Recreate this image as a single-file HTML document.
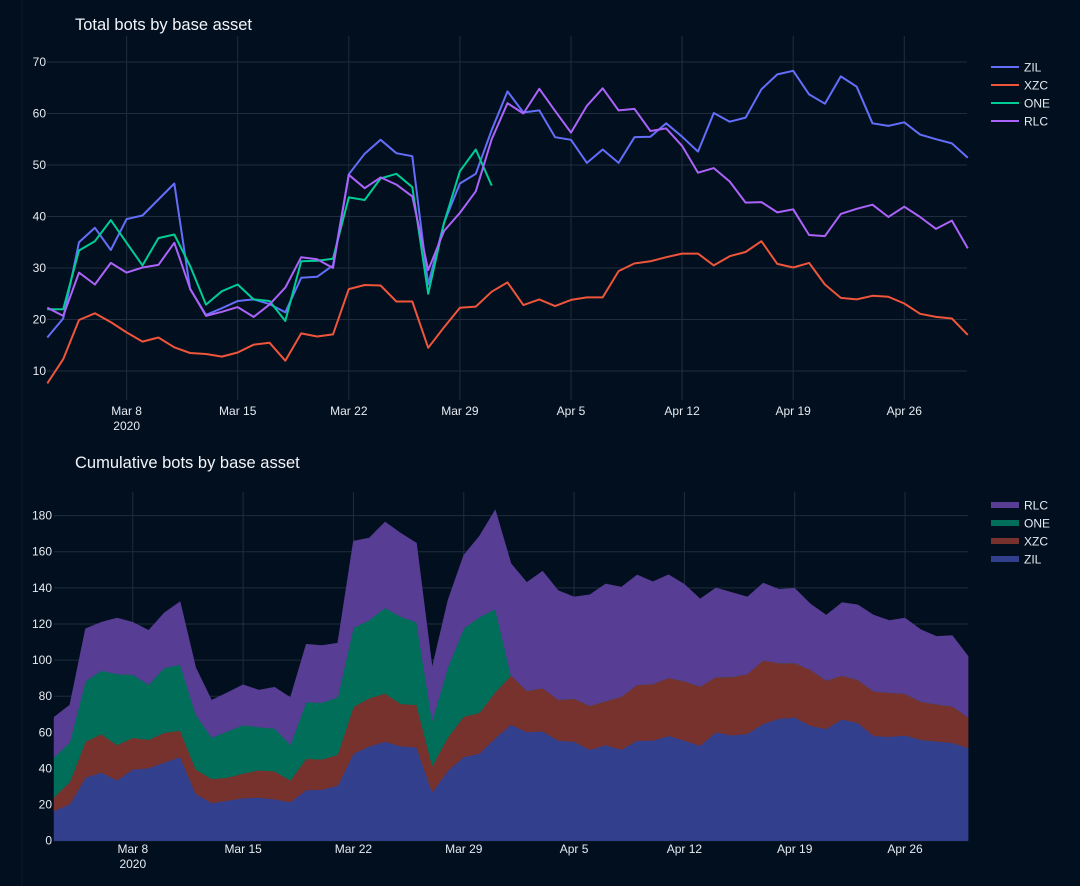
<!DOCTYPE html>
<html><head><meta charset="utf-8">
<style>
html,body{margin:0;padding:0;background:#020f1e;}
svg{display:block;font-family:"Liberation Sans","DejaVu Sans",sans-serif;}
</style></head>
<body>
<svg id="c" width="1080" height="886" viewBox="0 0 1080 886" xmlns="http://www.w3.org/2000/svg">
<rect x="0" y="0" width="1080" height="886" fill="#020f1e"/>
<line x1="22" y1="0" x2="22" y2="886" stroke="#0c1a29" stroke-width="1"/>
<text x="75" y="30" fill="#f2f5fa" font-size="16.5">Total bots by base asset</text>
<text x="75" y="468" fill="#f2f5fa" font-size="16.5">Cumulative bots by base asset</text>
<g id="top"></g>
<g id="bot"></g>
</svg>
<script>
const seriesNames = ["ZIL","XZC","ONE","RLC"];
const zil = [16.5,20.2,35,37.8,33.5,39.5,40.2,43.3,46.4,25.9,20.9,22.2,23.6,23.9,23,21.4,28.1,28.3,30.5,48.2,52.2,54.9,52.3,51.7,26.8,38.8,46.4,48.3,56.8,64.3,60.2,60.6,55.4,54.9,50.4,53,50.4,55.4,55.5,58.1,55.5,52.6,60.1,58.4,59.2,64.7,67.6,68.3,63.7,61.9,67.2,65.2,58.1,57.6,58.3,55.9,55,54.2,51.4];
const xzc = [7.6,12.3,19.9,21.2,19.5,17.5,15.7,16.5,14.6,13.5,13.3,12.8,13.6,15.1,15.5,12,17.3,16.7,17.1,25.9,26.7,26.6,23.5,23.5,14.5,18.5,22.3,22.5,25.4,27.2,22.8,23.9,22.6,23.8,24.3,24.3,29.4,30.9,31.3,32.1,32.8,32.8,30.5,32.3,33.1,35.2,30.8,30.1,31,26.8,24.2,23.9,24.6,24.4,23.1,21.1,20.5,20.2,17];
const one = [22,22,33.4,35.2,39.3,34.9,30.5,35.8,36.5,30.4,22.9,25.5,26.8,23.9,23.6,19.7,31.3,31.4,31.8,43.7,43.2,47.4,48.3,45.7,25,38.8,48.8,53,46];
const rlc = [22.3,20.7,29.1,26.8,31,29.1,30.1,30.6,34.9,26,20.7,21.5,22.4,20.5,22.9,26.2,32.1,31.7,30,48.1,45.5,47.6,46.2,43.9,29.6,37.2,40.7,44.9,55,62,60,64.8,60.5,56.3,61.5,64.9,60.6,60.9,56.6,57.1,53.7,48.5,49.4,46.8,42.7,42.8,40.8,41.4,36.4,36.2,40.5,41.5,42.3,39.9,41.9,39.9,37.6,39.2,33.8];
const xTickLabels = ["Mar 8","Mar 15","Mar 22","Mar 29","Apr 5","Apr 12","Apr 19","Apr 26"];
const xTickDays = [5,12,19,26,33,40,47,54];
const topYTicks = [10,20,30,40,50,60,70];
const botYTicks = [0,20,40,60,80,100,120,140,160,180];

const NS="http://www.w3.org/2000/svg";
function mk(parent,tag,attrs){const e=document.createElementNS(NS,tag);for(const k in attrs)e.setAttribute(k,attrs[k]);parent.appendChild(e);return e;}
const lineColors={ZIL:"#636efa",XZC:"#ef553b",ONE:"#00cc96",RLC:"#ab63fa"};
const fillColors={ZIL:"#323f8c",XZC:"#78322d",ONE:"#016e5a",RLC:"#573d94"};
const dataMap={ZIL:zil,XZC:xzc,ONE:one,RLC:rlc};

// ---- top chart ----
const T=document.getElementById('top');
const tx=d=>47.3+d*15.87;
const ty=v=>371-(v-10)*5.15;
topYTicks.forEach(v=>{
  const l=mk(T,'line',{x1:47,x2:967,y1:ty(v),y2:ty(v),stroke:"#1f2d3c","stroke-width":1});
  
  
  const t=mk(T,'text',{x:46,y:ty(v)+4,fill:"#e6ebf2","font-size":12,"text-anchor":"end"});
  t.textContent=v;
  
  
});
xTickDays.forEach((d,i)=>{
  const l=mk(T,'line',{x1:tx(d),x2:tx(d),y1:36,y2:400,stroke:"#1f2d3c","stroke-width":1});
  
  
  const t=mk(T,'text',{x:tx(d),y:415,fill:"#e6ebf2","font-size":12,"text-anchor":"middle"});
  t.textContent=xTickLabels[i];
  
  
});
{const t=mk(T,'text',{x:tx(5),y:430,fill:"#e6ebf2","font-size":12,"text-anchor":"middle"});t.textContent="2020";

}
seriesNames.forEach((n,si)=>{
  const arr=dataMap[n];
  const pts=arr.map((v,i)=>tx(i).toFixed(1)+","+ty(v).toFixed(1)).join(" ");
  const p=mk(T,'polyline',{points:pts,fill:"none",stroke:lineColors[n],"stroke-width":2,"stroke-linejoin":"round"});
  
  
  const y=67+si*18;
  const g=mk(T,'g',{});
  
  
  mk(g,'line',{x1:991,x2:1019,y1:y,y2:y,stroke:lineColors[n],"stroke-width":2});
  const t=mk(g,'text',{x:1024,y:y+4.5,fill:"#e6ebf2","font-size":12});t.textContent=n;
});

// ---- bottom chart ----
const B=document.getElementById('bot');
const bx=d=>54+d*15.76;
const by=v=>840.7-v*1.806;
botYTicks.forEach(v=>{
  const l=mk(B,'line',{x1:54,x2:968,y1:by(v),y2:by(v),stroke:"#1f2d3c","stroke-width":1});
  
  
  const t=mk(B,'text',{x:52,y:by(v)+4,fill:"#e6ebf2","font-size":12,"text-anchor":"end"});
  t.textContent=v;
  
  
});
xTickDays.forEach((d,i)=>{
  const l=mk(B,'line',{x1:bx(d),x2:bx(d),y1:492,y2:841,stroke:"#1f2d3c","stroke-width":1});
  
  
  const t=mk(B,'text',{x:bx(d),y:853,fill:"#e6ebf2","font-size":12,"text-anchor":"middle"});
  t.textContent=xTickLabels[i];
  
  
});
{const t=mk(B,'text',{x:bx(5),y:868,fill:"#e6ebf2","font-size":12,"text-anchor":"middle"});t.textContent="2020";

}
const N=zil.length;
let base=new Array(N).fill(0);
const areaLayer=mk(B,'g',{});
seriesNames.forEach(n=>{
  const arr=dataMap[n];
  const top=base.map((b,i)=>b+(arr[i]==null?0:arr[i]));
  let d="M"+bx(0)+","+by(top[0]);
  for(let i=1;i<N;i++)d+=" L"+bx(i).toFixed(1)+","+by(top[i]).toFixed(1);
  for(let i=N-1;i>=0;i--)d+=" L"+bx(i).toFixed(1)+","+by(base[i]).toFixed(1);
  d+=" Z";
  const p=mk(areaLayer,'path',{d:d,fill:fillColors[n],stroke:fillColors[n],"stroke-width":0.5});
  
  
  base=top;
});
["RLC","ONE","XZC","ZIL"].forEach((n,si)=>{
  const y=505+si*18;
  const g=mk(B,'g',{});
  
  
  mk(g,'rect',{x:991,y:y-3,width:28,height:6,fill:fillColors[n]});
  const t=mk(g,'text',{x:1024,y:y+4.5,fill:"#e6ebf2","font-size":12});t.textContent=n;
});
</script>
</body></html>
